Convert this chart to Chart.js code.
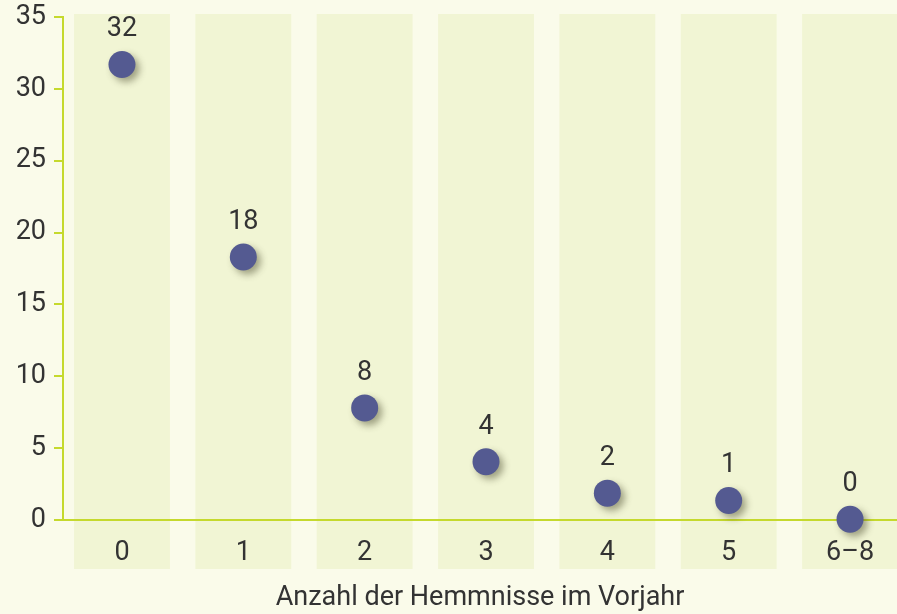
<!DOCTYPE html>
<html>
<head>
<meta charset="utf-8">
<script src="https://cdn.jsdelivr.net/npm/chart.js@4/dist/chart.umd.min.js"></script>
<style>
  html, body { margin: 0; padding: 0; background: #fafbea; }
  #wrap { width: 897px; height: 614px; }
</style>
</head>
<body>
<div id="wrap"><canvas id="chart" width="897" height="614"></canvas></div>
<script>
// categories on the x axis (number of obstacles the year before)
const categories = ['0', '1', '2', '3', '4', '5', '6–8'];
// plotted positions of the dots
const values = [31.7, 18.3, 7.8, 4.05, 1.87, 1.36, 0.05];
// the rounded numbers printed above each dot
const valueLabels = ['32', '18', '8', '4', '2', '1', '0'];
const yTicks = [0, 5, 10, 15, 20, 25, 30, 35];
const xTitle = 'Anzahl der Hemmnisse im Vorjahr';

const textColor = '#333333';
const lineColor = '#c5d92d';
const bandColor = '#f1f5d4';
const dotColor = '#545a91';
const fontFamily = 'Roboto, "Open Sans", sans-serif';

// light vertical bands behind each category
const bandsPlugin = {
  id: 'bands',
  beforeDraw(chart) {
    const {ctx, scales: {x, y}, chartArea} = chart;
    const half = (x.getPixelForValue(1) - x.getPixelForValue(0)) * 0.395;
    const top = y.getPixelForValue(35) - 3;
    const bottom = chartArea.bottom + 49;
    ctx.save();
    ctx.fillStyle = bandColor;
    categories.forEach((c, i) => {
      const cx = x.getPixelForValue(i);
      ctx.fillRect(cx - half, top, half * 2, bottom - top);
    });
    ctx.restore();
  }
};

// soft drop shadow under the dots
const shadowPlugin = {
  id: 'dotShadow',
  beforeDatasetDraw(chart) {
    const ctx = chart.ctx;
    ctx.save();
    ctx.shadowColor = 'rgba(60, 60, 30, 0.45)';
    ctx.shadowBlur = 7;
    ctx.shadowOffsetX = 4;
    ctx.shadowOffsetY = 4;
  },
  afterDatasetDraw(chart) {
    chart.ctx.restore();
  }
};

// numbers above the dots
const valueLabelPlugin = {
  id: 'valueLabels',
  afterDatasetsDraw(chart) {
    const {ctx} = chart;
    const meta = chart.getDatasetMeta(0);
    ctx.save();
    ctx.fillStyle = textColor;
    ctx.font = '27px ' + fontFamily;
    ctx.textAlign = 'center';
    ctx.textBaseline = 'middle';
    meta.data.forEach((pt, i) => {
      ctx.fillText(valueLabels[i], pt.x, pt.y - 35);
    });
    ctx.restore();
  }
};

new Chart(document.getElementById('chart'), {
  type: 'scatter',
  data: {
    datasets: [{
      data: values.map((v, i) => ({x: i, y: v})),
      backgroundColor: dotColor,
      borderColor: dotColor,
      borderWidth: 0,
      pointRadius: 13.5,
      pointHoverRadius: 13.5,
      clip: false
    }]
  },
  options: {
    responsive: false,
    animation: false,
    devicePixelRatio: 1,
    layout: { autoPadding: false, padding: { top: 17, left: 0, right: 0, bottom: 0 } },
    plugins: {
      legend: { display: false },
      tooltip: { enabled: false }
    },
    scales: {
      x: {
        type: 'linear',
        min: -0.486,
        max: 6.387,
        afterBuildTicks(scale) {
          scale.ticks = categories.map((c, i) => ({value: i}));
        },
        afterFit(scale) {
          scale.height = 94;
          scale.paddingLeft = 0;
          scale.paddingRight = 0;
        },
        grid: { display: false, drawTicks: false },
        border: { display: true, color: lineColor, width: 2 },
        ticks: {
          color: textColor,
          font: { family: fontFamily, size: 27 },
          padding: 17,
          maxRotation: 0,
          callback: (v) => categories[v]
        },
        title: {
          display: true,
          text: xTitle,
          color: textColor,
          font: { family: fontFamily, size: 27 },
          padding: { top: 0, bottom: 0 }
        }
      },
      y: {
        min: 0,
        max: 35,
        afterBuildTicks(scale) {
          scale.ticks = yTicks.map(v => ({value: v}));
        },
        afterFit(scale) {
          scale.width = 63;
          scale.paddingTop = 0;
          scale.paddingBottom = 0;
        },
        grid: {
          drawOnChartArea: false,
          drawTicks: true,
          tickLength: 9,
          color: lineColor,
          lineWidth: 2
        },
        border: { display: true, color: lineColor, width: 2 },
        ticks: {
          color: textColor,
          font: { family: fontFamily, size: 27 },
          padding: 8
        }
      }
    }
  },
  plugins: [bandsPlugin, shadowPlugin, valueLabelPlugin]
});
</script>
</body>
</html>
